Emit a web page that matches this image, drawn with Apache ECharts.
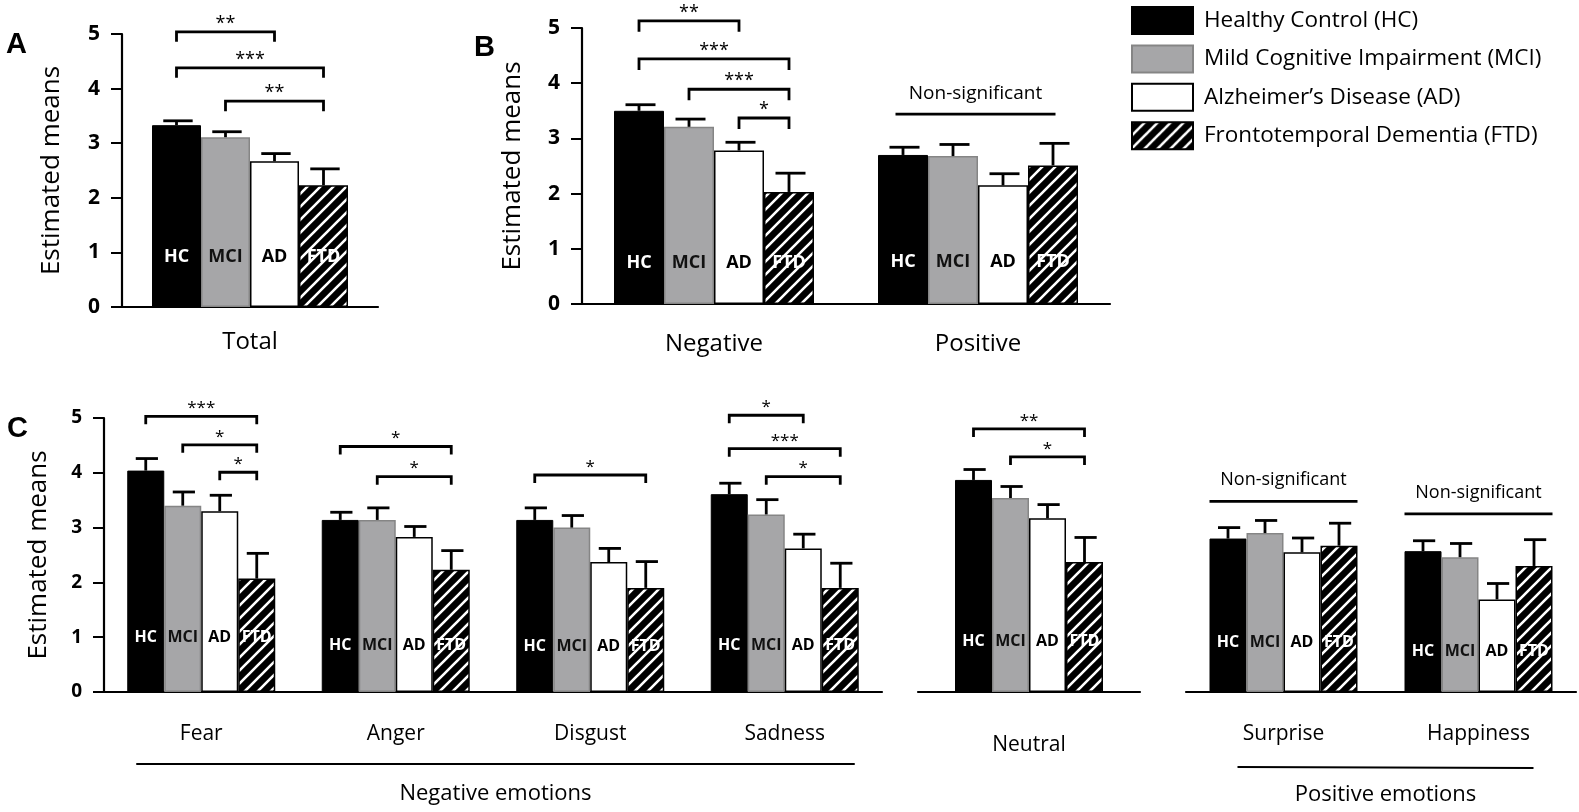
<!doctype html>
<html>
<head>
<meta charset="utf-8">
<title>Estimated means by diagnostic group</title>
<style>
html,body{height:100%;margin:0;padding:0;background:#fff;}
#chart{width:1579px;height:812px;}
</style>
</head>
<body>
<div id="chart"></div>
<script src="https://cdn.jsdelivr.net/npm/echarts@6/dist/echarts.min.js"></script>
<script>
// groups (legend order) and the short tags written inside the bars
var groups = ['Healthy Control (HC)', 'Mild Cognitive Impairment (MCI)', 'Alzheimer\u2019s Disease (AD)', 'Frontotemporal Dementia (FTD)'];
var groupTags = ['HC', 'MCI', 'AD', 'FTD'];

// panel A
var catsA = ['Total'];
var meansA = [[3.33], [3.11], [2.67], [2.23]];
var upperA = [[3.41], [3.21], [2.81], [2.53]];
// [category, from group, to group, height, text]
var marksA = [[0, 0, 2, 5.04, '**'], [0, 0, 3, 4.38, '***'], [0, 1, 3, 3.77, '**']];

// panel B
var catsB = ['Negative', 'Positive'];
var meansB = [[3.50, 2.70], [3.21, 2.68], [2.78, 2.15], [2.03, 2.51]];
var upperB = [[3.61, 2.84], [3.35, 2.89], [2.93, 2.36], [2.37, 2.91]];
var marksB = [[0, 0, 2, 5.13, '**'], [0, 0, 3, 4.44, '***'], [0, 1, 3, 3.89, '***'], [0, 2, 3, 3.37, '*'],
              [1, -0.15, 3.05, 3.44, 'Non-significant']];

// panel C, negative emotions
var catsC1 = ['Fear', 'Anger', 'Disgust', 'Sadness'];
var meansC1 = [[4.04, 3.14, 3.14, 3.61], [3.40, 3.14, 3.00, 3.24], [3.30, 2.83, 2.37, 2.62], [2.07, 2.23, 1.90, 1.90]];
var upperC1 = [[4.26, 3.28, 3.36, 3.81], [3.65, 3.36, 3.22, 3.51], [3.59, 3.02, 2.62, 2.88], [2.53, 2.58, 2.38, 2.35]];
var marksC1 = [[0, 0, 3, 5.03, '***'], [0, 1, 3, 4.51, '*'], [0, 2, 3, 4.01, '*'],
               [1, 0, 3, 4.48, '*'], [1, 1, 3, 3.93, '*'],
               [2, 0, 3, 3.96, '*'],
               [3, 0, 2, 5.05, '*'], [3, 0, 3, 4.44, '***'], [3, 1, 3, 3.93, '*']];

// panel C, neutral
var catsC2 = ['Neutral'];
var meansC2 = [[3.87], [3.54], [3.17], [2.37]];
var upperC2 = [[4.06], [3.75], [3.42], [2.82]];
var marksC2 = [[0, 0, 3, 4.80, '**'], [0, 1, 3, 4.29, '*']];

// panel C, positive emotions
var catsC3 = ['Surprise', 'Happiness'];
var meansC3 = [[2.80, 2.57], [2.90, 2.46], [2.55, 1.69], [2.67, 2.30]];
var upperC3 = [[3.00, 2.76], [3.13, 2.71], [2.81, 1.98], [3.08, 2.78]];
var marksC3 = [[0, -0.5, 3.5, 3.48, 'Non-significant'], [1, -0.5, 3.5, 3.25, 'Non-significant']];

var yTicks = [0, 1, 2, 3, 4, 5];

var FONT = '"Open Sans", "Noto Sans", sans-serif';

function hatch() {
	var s = 13, cv = document.createElement('canvas');
	cv.width = s; cv.height = s;
	var ctx = cv.getContext('2d');
	ctx.fillStyle = '#000';
	ctx.fillRect(0, 0, s, s);
	ctx.strokeStyle = '#fff';
	ctx.lineWidth = 2.6;
	ctx.beginPath();
	ctx.moveTo(-s, s); ctx.lineTo(s, -s);
	ctx.moveTo(0, s); ctx.lineTo(s, 0);
	ctx.moveTo(0, 2 * s); ctx.lineTo(2 * s, 0);
	ctx.stroke();
	return cv;
}

var barStyles = [
	{color: '#000', borderColor: '#000', borderWidth: 1},
	{color: '#a6a6a8', borderColor: '#858585', borderWidth: 1.5},
	{color: '#fff', borderColor: '#000', borderWidth: 1.5},
	{color: {image: hatch(), repeat: 'repeat'}, borderColor: '#000', borderWidth: 1.5}
];
var tagColors = ['#fff', '#111', '#000', '#fff'];

var panels = [
	{cats: catsA, means: meansA, upper: upperA, marks: marksA, tagAt: [0.92],
	 left: 122, top: 34, width: 256, height: 273, barWidth: 49, yAxis: true, nameGap: 57,
	 tickFont: 21, catFont: 24, catMargin: 23, tagFont: 18, starFont: 18, nsFont: 19, leg: 10},
	{cats: catsB, means: meansB, upper: upperB, marks: marksB, tagAt: [0.74, 0.77],
	 left: 582, top: 28, width: 528, height: 276, barWidth: 50, yAxis: true, nameGap: 56,
	 tickFont: 21, catFont: 24, catMargin: 28, tagFont: 18, starFont: 18, nsFont: 19, leg: 11},
	{cats: catsC1, means: meansC1, upper: upperC1, marks: marksC1, tagAt: [0.99, 0.85, 0.84, 0.85],
	 left: 104, top: 418, width: 778, height: 274, barWidth: 37, yAxis: true, nameGap: 52,
	 tickFont: 19, catFont: 21, catMargin: 32, tagFont: 16, starFont: 17, nsFont: 18, leg: 8},
	{cats: catsC2, means: meansC2, upper: upperC2, marks: marksC2, tagAt: [0.92],
	 left: 918, top: 418, width: 222, height: 274, barWidth: 37, yAxis: false,
	 tickFont: 19, catFont: 21, catMargin: 43, tagFont: 16, starFont: 17, nsFont: 18, leg: 8},
	{cats: catsC3, means: meansC3, upper: upperC3, marks: marksC3, tagAt: [0.90, 0.74],
	 left: 1186, top: 418, width: 390, height: 274, barWidth: 37, yAxis: false,
	 tickFont: 19, catFont: 21, catMargin: 32, tagFont: 16, starFont: 17, nsFont: 18, leg: 8}
];

function errorRenderer(p) {
	return function (params, api) {
		var g = api.value(1);
		var base = api.coord([api.value(0), api.value(2)]);
		var top = api.coord([api.value(0), api.value(3)]);
		var x = base[0] + (g - 1.5) * p.barWidth;
		var st = {stroke: '#000', lineWidth: 2.8};
		return {type: 'group', children: [
			{type: 'line', shape: {x1: x, y1: base[1], x2: x, y2: top[1]}, style: st},
			{type: 'line', shape: {x1: x - p.barWidth * 0.27, y1: top[1], x2: x + p.barWidth * 0.33, y2: top[1]}, style: st}
		]};
	};
}

function tagRenderer(p) {
	return function (params, api) {
		var g = api.value(1);
		var c = api.coord([api.value(0), api.value(2)]);
		return {type: 'text', x: c[0] + (g - 1.5) * p.barWidth, y: c[1],
			style: {text: groupTags[g], fill: tagColors[g], font: 'bold ' + p.tagFont + 'px ' + FONT,
				align: 'center', verticalAlign: 'middle'}};
	};
}

function markRenderer(p) {
	return function (params, api) {
		var m = p.marks[params.dataIndex];
		var c = api.coord([m[0], m[3]]);
		var x1 = c[0] + (m[1] - 1.5) * p.barWidth;
		var x2 = c[0] + (m[2] - 1.5) * p.barWidth;
		var y = c[1];
		var stars = m[4].charAt(0) === '*';
		var st = {stroke: '#000', lineWidth: 2.8, fill: null};
		var kids = [];
		if (stars) {
			kids.push({type: 'polyline', shape: {points: [[x1, y + p.leg], [x1, y], [x2, y], [x2, y + p.leg]]}, style: st});
			kids.push({type: 'text', x: (x1 + x2) / 2, y: y - 8,
				style: {text: m[4], fill: '#000', font: p.starFont + 'px ' + FONT, align: 'center', verticalAlign: 'middle'}});
		} else {
			kids.push({type: 'line', shape: {x1: x1, y1: y, x2: x2, y2: y}, style: st});
			kids.push({type: 'text', x: (x1 + x2) / 2, y: y - 21,
				style: {text: m[4], fill: '#000', font: p.nsFont + 'px ' + FONT, align: 'center', verticalAlign: 'middle'}});
		}
		return {type: 'group', children: kids};
	};
}

var grids = [], xAxes = [], yAxes = [], series = [];
panels.forEach(function (p, i) {
	grids.push({left: p.left, top: p.top, width: p.width, height: p.height, containLabel: false, outerBoundsMode: 'none'});
	xAxes.push({
		type: 'category', gridIndex: i, data: p.cats,
		axisLine: {lineStyle: {color: '#000', width: 2.2}},
		axisTick: {alignWithLabel: true, length: 10, lineStyle: {color: '#000', width: 2}},
		axisLabel: {color: '#000', fontSize: p.catFont, fontFamily: FONT, margin: p.catMargin}
	});
	yAxes.push({
		type: 'value', gridIndex: i, min: yTicks[0], max: yTicks[yTicks.length - 1], interval: 1, show: p.yAxis,
		splitLine: {show: false},
		axisLine: {show: true, lineStyle: {color: '#000', width: 2.2}},
		axisTick: {show: true, length: 11, lineStyle: {color: '#000', width: 2}},
		axisLabel: {color: '#000', fontSize: p.tickFont, fontWeight: 'bold', fontFamily: FONT, margin: 22},
		name: 'Estimated means', nameLocation: 'middle', nameGap: p.nameGap || 50,
		nameTextStyle: {color: '#000', fontSize: 26, fontFamily: FONT}
	});
	var errData = [], tagData = [];
	p.cats.forEach(function (c, ci) {
		for (var g = 0; g < 4; g++) {
			errData.push([ci, g, p.means[g][ci], p.upper[g][ci]]);
			tagData.push([ci, g, p.tagAt[ci]]);
		}
	});
	for (var g = 0; g < 4; g++) {
		series.push({
			type: 'bar', name: groups[g], xAxisIndex: i, yAxisIndex: i,
			data: p.means[g], barWidth: p.barWidth, barGap: '0%',
			itemStyle: barStyles[g], silent: true
		});
	}
	series.push({type: 'custom', xAxisIndex: i, yAxisIndex: i, data: errData, encode: {x: 0, y: 2},
		renderItem: errorRenderer(p), z: 3, silent: true});
	series.push({type: 'custom', xAxisIndex: i, yAxisIndex: i, data: tagData, encode: {x: 0, y: 2},
		renderItem: tagRenderer(p), z: 4, silent: true});
	series.push({type: 'custom', xAxisIndex: i, yAxisIndex: i, clip: false,
		data: p.marks.map(function (m) { return [m[0], m[3]]; }), encode: {x: 0, y: 1},
		renderItem: markRenderer(p), z: 4, silent: true});
});

var chart = echarts.init(document.getElementById('chart'));
chart.setOption({
	animation: false,
	backgroundColor: '#fff',
	textStyle: {fontFamily: FONT},
	legend: {
		orient: 'vertical', left: 1126, top: 1, icon: 'rect',
		itemWidth: 61, itemHeight: 27, itemGap: 9.4, selectedMode: false,
		data: groups,
		textStyle: {color: '#000', fontSize: 22.5, lineHeight: 27, fontFamily: FONT, padding: [0, 0, 0, 6]}
	},
	grid: grids,
	xAxis: xAxes,
	yAxis: yAxes,
	series: series
});

// panel letters and the emotion group spans under panel C
var y0 = chart.convertToPixel({yAxisIndex: 2}, 0);
var xFear = chart.convertToPixel({xAxisIndex: 2}, 0);
var xSad = chart.convertToPixel({xAxisIndex: 2}, 3);
var xSur = chart.convertToPixel({xAxisIndex: 4}, 0);
var xHap = chart.convertToPixel({xAxisIndex: 4}, 1);
var letterFont = 'bold 29px "Liberation Sans", Arial, sans-serif';
var spanFont = '22px ' + FONT;
chart.setOption({
	graphic: [
		{type: 'text', left: 6, top: 30, style: {text: 'A', font: letterFont, fill: '#000'}},
		{type: 'text', left: 474, top: 33, style: {text: 'B', font: letterFont, fill: '#000'}},
		{type: 'text', left: 7, top: 414, style: {text: 'C', font: letterFont, fill: '#000'}},
		{type: 'line', shape: {x1: xFear - 65, y1: y0 + 72, x2: xSad + 70, y2: y0 + 72}, style: {stroke: '#000', lineWidth: 2}},
		{type: 'text', x: (xFear - 65 + xSad + 70) / 2, y: y0 + 102,
		 style: {text: 'Negative emotions', font: spanFont, fill: '#000', align: 'center', verticalAlign: 'middle'}},
		{type: 'line', shape: {x1: xSur - 46, y1: y0 + 75, x2: xHap + 55, y2: y0 + 76}, style: {stroke: '#000', lineWidth: 2}},
		{type: 'text', x: (xSur - 46 + xHap + 55) / 2, y: y0 + 103,
		 style: {text: 'Positive emotions', font: spanFont, fill: '#000', align: 'center', verticalAlign: 'middle'}}
	]
});
</script>
</body>
</html>
